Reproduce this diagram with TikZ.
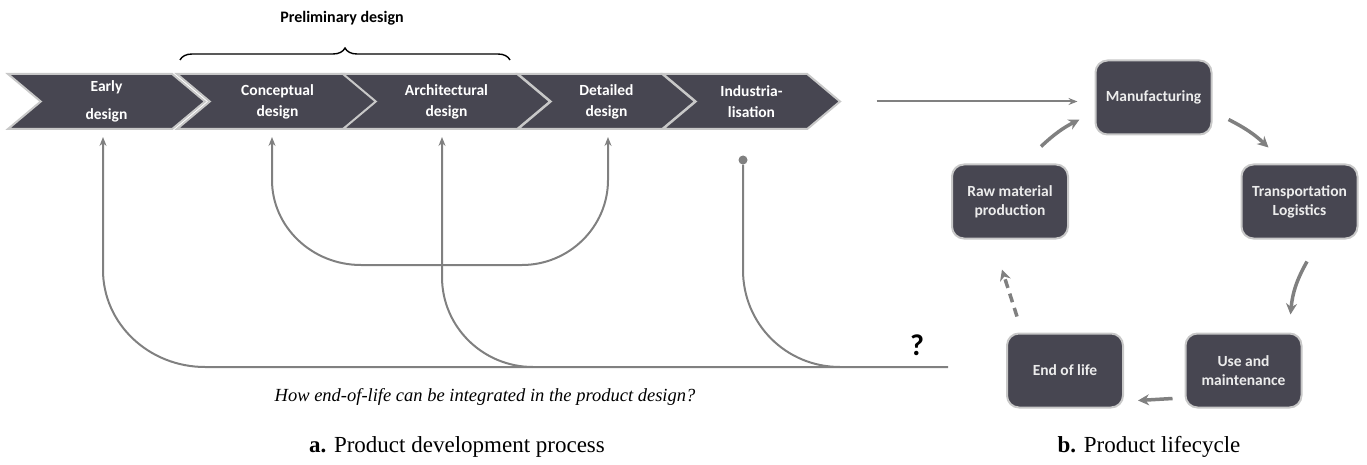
\documentclass[tikz,border=0pt]{standalone}
\usepackage{fontspec}
\setmainfont{Liberation Serif}
\newfontfamily\calibri{Carlito}
\usetikzlibrary{positioning, arrows.meta, shapes.symbols, decorations.pathreplacing}
\definecolor{phasefill}{RGB}{71,70,81}
\definecolor{phaseedge}{RGB}{200,200,200}
\definecolor{linkgray}{RGB}{128,128,128}
\definecolor{boxtext}{RGB}{236,236,236}

\begin{document}
\begin{tikzpicture}[x=1pt, y=-1pt,
    phase/.style={signal, signal from=west, signal to=east, signal pointer angle=80,
        fill=phasefill, draw=phaseedge, line width=2pt, minimum height=55pt, inner sep=0pt,
        align=center, text=white, font=\calibri\bfseries\fontsize{15.5}{21}\selectfont},
    stage/.style={rectangle, rounded corners=12pt, fill=phasefill, draw=phaseedge,
        line width=2pt, minimum width=116pt, minimum height=74pt, align=center,
        text=boxtext, font=\calibri\bfseries\fontsize{15.5}{19}\selectfont},
    back/.style={draw=linkgray, line width=2pt},
    backtip/.style={-{Stealth[length=9pt, width=7pt, inset=3pt]}},
    turn/.style={draw=linkgray, line width=3.5pt, -{Stealth[length=11pt, width=11pt]}}]

    % frame of the picture
    \useasboundingbox (0,0) rectangle (1367,465);

    % === PRODUCT DEVELOPMENT PROCESS ===
    \node[phase, minimum width=197pt] (early)   at (106.5,101.5) {Early\\[7pt]design};
    \node[phase, minimum width=201pt] (concept) at (277.5,101.5) {Conceptual\\design};
    \node[phase, minimum width=207pt] (archi)   at (446.5,101.5) {Architectural\\design};
    \node[phase, minimum width=177pt] (detail)  at (606.5,101.5) {Detailed\\design};
    \node[phase, minimum width=177pt] (indus)   at (751.5,101.5) {Industria-\\lisation};

    % Preliminary design brace
    \draw[line width=1.4pt, decorate, decoration={brace, amplitude=12pt}] (180,60) -- (510,60);
    \node[font=\calibri\bfseries\fontsize{16}{18}\selectfont] (prelim) at (342,18) {Preliminary design};

    % === PRODUCT LIFECYCLE ===
    \node[stage] (manuf) at (1153.5,97.5) {Manufacturing};
    \node[stage] (raw)   at (1010,201.5)  {Raw material\\production};
    \node[stage] (trans) at (1299.5,201.5) {Transportation\\Logistics};
    \node[stage] (eol)   at (1065,370.5)  {End of life};
    \node[stage] (use)   at (1243.5,370.5) {Use and\\maintenance};

    % link between the two parts
    \draw[back, -{Stealth[length=9pt, width=7pt, inset=3pt]}, shorten <=35pt, shorten >=17pt]
        (indus.east) -- (indus.east -| manuf.west);

    % lifecycle loop
    \draw[turn] ([xshift=-28pt, yshift=17pt]raw.north east) to[bend left=8] ([xshift=-15pt, yshift=16pt]manuf.south west);
    \draw[turn] ([xshift=16pt, yshift=16pt]manuf.south east) to[bend left=8] ([xshift=28pt, yshift=16pt]trans.north west);
    \draw[turn] ([xshift=7.5pt, yshift=-22pt]trans.south) to[bend right=12] ([xshift=-12pt, yshift=18pt]use.north east);
    \draw[turn] ([xshift=-12pt, yshift=10pt]use.south west) -- ([xshift=14pt, yshift=8pt]eol.south east);
    \draw[turn, dash pattern=on 9pt off 6pt] ([xshift=11pt, yshift=16pt]eol.north west) -- ([xshift=-8pt, yshift=-30pt]raw.south);

    % === RETURN PATHS ===
    \coordinate (qend) at (948,367);
    \node[font=\calibri\bfseries\fontsize{30}{32}\selectfont] (quest) at (917,345) {?};

    % end of life back to early design
    \draw[back, backtip, shorten >=7pt] (qend) -- (205,367) .. controls (149,367) and (103,324) .. (103,270)
        -- ([xshift=-3.5pt]early.south);
    % back to architectural design
    \draw[back, backtip, shorten >=7pt] (533,367) .. controls (483,367) and (442,327) .. (442,277)
        -- ([xshift=-4.5pt]archi.south);
    % from industrialisation
    \node[circle, fill=linkgray, minimum width=8pt, minimum height=9pt, inner sep=0pt] (idot) at (743,160) {};
    \draw[back] (idot) -- (743,270) .. controls (743,324) and (786,367) .. (840,367);
    % between conceptual and detailed design
    \draw[back, {Stealth[length=9pt, width=7pt, inset=3pt]}-{Stealth[length=9pt, width=7pt, inset=3pt]},
        shorten <=7pt, shorten >=7pt]
        ([xshift=-5.5pt]concept.south) -- (272,180) .. controls (272,227) and (312,265) .. (361,265)
        -- (522,265) .. controls (569,265) and (608,227) .. (608,180) -- ([xshift=1.5pt]detail.south);

    % === TEXTS ===
    \node[font=\itshape\fontsize{18.5}{20}\selectfont] (question) at (485,397)
        {How end-of-life can be integrated in the product design?};
    \node[font=\fontsize{23}{25}\selectfont] (capa) at (457,447) {\textbf{a.} Product development process};
    \node[font=\fontsize{23}{25}\selectfont] (capb) at (1149,447) {\textbf{b.} Product lifecycle};

\end{tikzpicture}
\end{document}
